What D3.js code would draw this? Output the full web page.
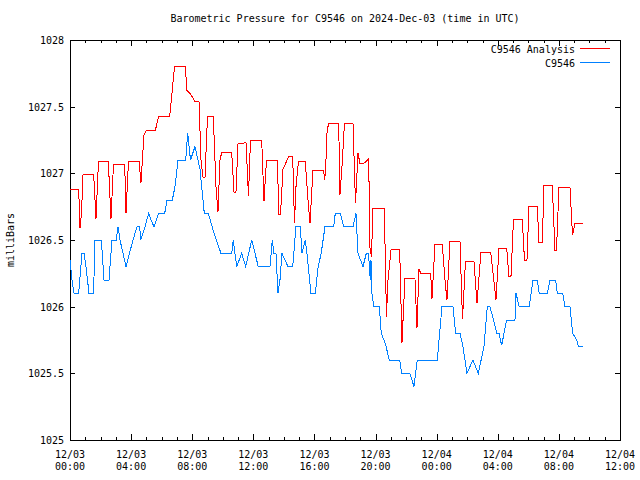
<!DOCTYPE html>
<html>
<head>
<meta charset="utf-8">
<script src="https://cdn.jsdelivr.net/npm/d3@7"></script>
<style>
  html, body { margin: 0; padding: 0; background: #fff; }
  svg text { font-family: "DejaVu Sans Mono", "Liberation Mono", monospace; font-size: 10px; fill: #000; }
</style>
</head>
<body>
<svg id="chart" width="640" height="480"></svg>
<script>
// Hours since 2024-12-03 00:00 UTC
const analysisHours = [0,0.569,0.655,0.753,0.851,1.551,1.702,1.865,2.507,2.683,2.847,3.580,3.665,3.829,4.516,4.647,4.843,4.974,5.583,5.805,6.525,6.676,6.839,7.546,7.658,7.854,8.181,8.443,8.574,8.705,8.836,9.0,9.379,9.556,9.687,9.818,9.929,10.583,10.734,10.865,10.996,11.519,11.683,11.814,12.547,12.697,12.861,13.568,13.679,13.777,13.941,14.137,14.334,14.576,14.693,14.792,14.955,15.400,15.577,15.708,15.904,16.605,16.657,16.722,16.821,16.919,17.586,17.672,17.802,17.966,18.522,18.686,18.850,18.981,19.242,19.550,19.635,19.733,19.831,20.571,20.715,20.813,21.009,21.579,21.729,21.926,22.580,22.711,22.842,22.973,23.608,23.693,23.889,24.367,24.544,24.675,24.871,25.526,25.689,25.886,26.442,26.638,26.900,27.535,27.882,28.078,28.582,28.733,28.863,29.027,29.603,29.747,29.911,30.042,30.585,30.697,30.913,31.024,31.567,31.744,31.842,32.006,32.726,32.890,33.053,33.596];
const analysisValues = [1026.88,1026.88,1026.59,1026.70,1026.99,1026.99,1026.66,1027.09,1027.09,1026.66,1027.07,1027.07,1026.70,1027.09,1027.09,1026.93,1027.29,1027.32,1027.32,1027.43,1027.43,1027.60,1027.80,1027.80,1027.62,1027.60,1027.54,1027.54,1027.10,1026.97,1026.97,1027.43,1027.43,1026.90,1026.71,1027.10,1027.155,1027.155,1026.86,1026.86,1027.22,1027.23,1026.83,1027.25,1027.25,1026.79,1027.10,1027.10,1026.69,1026.69,1027.03,1027.08,1027.13,1027.13,1026.625,1026.90,1027.09,1027.09,1026.80,1026.625,1027.025,1027.025,1026.95,1027.00,1027.30,1027.375,1027.375,1026.84,1027.05,1027.375,1027.375,1026.775,1027.15,1027.075,1027.075,1027.11,1026.44,1026.375,1026.74,1026.74,1025.925,1026.20,1026.425,1026.43,1025.73,1026.21,1026.21,1025.84,1026.28,1026.25,1026.25,1026.06,1026.47,1026.47,1026.20,1026.05,1026.49,1026.49,1025.905,1026.34,1026.34,1026.025,1026.41,1026.41,1026.05,1026.44,1026.44,1026.225,1026.225,1026.655,1026.655,1026.35,1026.35,1026.75,1026.75,1026.485,1026.485,1026.91,1026.91,1026.425,1026.425,1026.895,1026.895,1026.535,1026.625,1026.625];

const stationHours = [0,0.131,0.262,0.569,0.785,0.916,1.047,1.244,1.551,1.617,2.049,2.225,2.553,2.749,3.030,3.142,3.273,3.665,4.123,4.385,4.562,4.627,4.909,5.151,5.301,5.498,5.805,6.198,6.349,6.696,6.872,7.069,7.573,7.703,7.887,8.181,8.509,8.790,9.052,9.425,9.883,10.583,10.688,10.910,11.238,11.500,11.893,12.324,13.090,13.241,13.352,13.483,13.614,13.744,13.875,14.268,14.576,14.792,15.073,15.184,15.400,15.511,15.773,16.055,16.245,16.441,16.690,17.259,17.364,17.691,17.914,18.522,18.719,18.850,19.177,19.393,19.537,19.655,19.701,19.766,19.878,20.244,20.375,20.637,20.898,21.579,21.710,22.233,22.384,22.515,22.731,24.040,24.347,25.067,25.244,25.526,25.722,25.984,26.376,26.723,27.096,27.312,27.489,27.947,28.078,28.255,28.582,29.125,29.191,29.407,30.061,30.304,30.585,30.716,31.240,31.416,31.789,31.894,32.247,32.398,32.726,32.903,33.164,33.269,33.596];
const stationValues = [1026.35,1026.2,1026.1,1026.1,1026.4,1026.4,1026.3,1026.1,1026.1,1026.5,1026.5,1026.2,1026.2,1026.5,1026.5,1026.6,1026.5,1026.3,1026.5,1026.6,1026.6,1026.5,1026.6,1026.7,1026.65,1026.6,1026.7,1026.7,1026.8,1026.8,1026.9,1027.1,1027.1,1027.3,1027.1,1027.2,1027.03,1026.7,1026.7,1026.55,1026.4,1026.4,1026.5,1026.3,1026.4,1026.3,1026.5,1026.3,1026.3,1026.5,1026.4,1026.4,1026.1,1026.2,1026.4,1026.3,1026.3,1026.6,1026.6,1026.4,1026.5,1026.4,1026.1,1026.1,1026.3,1026.4,1026.6,1026.6,1026.7,1026.7,1026.6,1026.6,1026.7,1026.4,1026.3,1026.4,1026.4,1026.2,1026.35,1026.1,1026.0,1026.0,1025.8,1025.725,1025.6,1025.6,1025.5,1025.5,1025.45,1025.4,1025.6,1025.6,1026.0,1026.0,1025.8,1025.8,1025.7,1025.5,1025.6,1025.5,1025.7,1026.0,1026.0,1025.8,1025.8,1025.71,1025.9,1025.9,1026.1,1026.0,1026.0,1026.2,1026.2,1026.1,1026.1,1026.2,1026.2,1026.1,1026.1,1026.0,1026.0,1025.8,1025.75,1025.705,1025.705];

const yTicks = [1025, 1025.5, 1026, 1026.5, 1027, 1027.5, 1028];
const yTickLabels = ["1025", "1025.5", "1026", "1026.5", "1027", "1027.5", "1028"];
const xTicks = [0, 4, 8, 12, 16, 20, 24, 28, 32, 36];
const xTickDates = ["12/03", "12/03", "12/03", "12/03", "12/03", "12/03", "12/04", "12/04", "12/04", "12/04"];
const xTickTimes = ["00:00", "04:00", "08:00", "12:00", "16:00", "20:00", "00:00", "04:00", "08:00", "12:00"];
const seriesNames = ["C9546 Analysis", "C9546"];
const seriesColors = ["#ff0000", "#0080ff"];
const titleText = "Barometric Pressure for C9546 on 2024-Dec-03 (time in UTC)";
const yTitle = "milliBars";

const svg = d3.select("#chart");
const L = 70, R = 620, T = 40, B = 440;
const x = d3.scaleLinear().domain([0, 36]).range([L, R]);
const y = d3.scaleLinear().domain([1025, 1028]).range([B, T]);

// title
svg.append("text").attr("x", 345).attr("y", 22).attr("text-anchor", "middle").text(titleText);

// y title
svg.append("text").attr("transform", "translate(14,240) rotate(-90)").attr("text-anchor", "middle").text(yTitle);

const g = svg.append("g").attr("shape-rendering", "crispEdges");

// minor x ticks (hourly)
const minorX = d3.range(0, 37).filter(h => h % 4 !== 0);
g.selectAll(".mxb").data(minorX).enter().append("line")
  .attr("x1", d => Math.round(x(d)) + 0.5).attr("x2", d => Math.round(x(d)) + 0.5)
  .attr("y1", B).attr("y2", B - 3).attr("stroke", "#000");
g.selectAll(".mxt").data(minorX).enter().append("line")
  .attr("x1", d => Math.round(x(d)) + 0.5).attr("x2", d => Math.round(x(d)) + 0.5)
  .attr("y1", T).attr("y2", T + 3).attr("stroke", "#000");
// major x ticks
g.selectAll(".Mxb").data(xTicks).enter().append("line")
  .attr("x1", d => Math.round(x(d)) + 0.5).attr("x2", d => Math.round(x(d)) + 0.5)
  .attr("y1", B).attr("y2", B - 6).attr("stroke", "#000");
g.selectAll(".Mxt").data(xTicks).enter().append("line")
  .attr("x1", d => Math.round(x(d)) + 0.5).attr("x2", d => Math.round(x(d)) + 0.5)
  .attr("y1", T).attr("y2", T + 6).attr("stroke", "#000");
// y ticks
g.selectAll(".yl").data(yTicks).enter().append("line")
  .attr("x1", L).attr("x2", L + 5)
  .attr("y1", d => Math.round(y(d)) + 0.5).attr("y2", d => Math.round(y(d)) + 0.5).attr("stroke", "#000");
g.selectAll(".yr").data(yTicks).enter().append("line")
  .attr("x1", R - 5).attr("x2", R)
  .attr("y1", d => Math.round(y(d)) + 0.5).attr("y2", d => Math.round(y(d)) + 0.5).attr("stroke", "#000");

// tick labels
svg.selectAll(".ylab").data(yTicks).enter().append("text")
  .attr("x", L - 6).attr("y", d => y(d) + 4).attr("text-anchor", "end")
  .text((d, i) => yTickLabels[i]);
svg.selectAll(".xlab1").data(xTicks).enter().append("text")
  .attr("x", d => x(d)).attr("y", 458).attr("text-anchor", "middle")
  .text((d, i) => xTickDates[i]);
svg.selectAll(".xlab2").data(xTicks).enter().append("text")
  .attr("x", d => x(d)).attr("y", 470).attr("text-anchor", "middle")
  .text((d, i) => xTickTimes[i]);

// series
const line = d3.line().x(d => x(d[0])).y(d => y(d[1]));
const seriesData = [
  d3.zip(analysisHours, analysisValues),
  d3.zip(stationHours, stationValues)
];
seriesData.forEach((data, i) => {
  svg.append("path").datum(data).attr("d", line)
    .attr("fill", "none").attr("stroke", seriesColors[i]).attr("stroke-width", 1)
    .attr("shape-rendering", "crispEdges");
});

// legend
seriesNames.forEach((name, i) => {
  const ly = 48 + i * 14;
  svg.append("text").attr("x", 575).attr("y", ly + 5).attr("text-anchor", "end").text(name);
  g.append("line").attr("x1", 580).attr("x2", 610).attr("y1", ly + 0.5).attr("y2", ly + 0.5)
    .attr("stroke", seriesColors[i]);
});

// frame
g.append("rect").attr("x", L + 0.5).attr("y", T + 0.5).attr("width", R - L).attr("height", B - T)
  .attr("fill", "none").attr("stroke", "#000");
</script>
</body>
</html>
